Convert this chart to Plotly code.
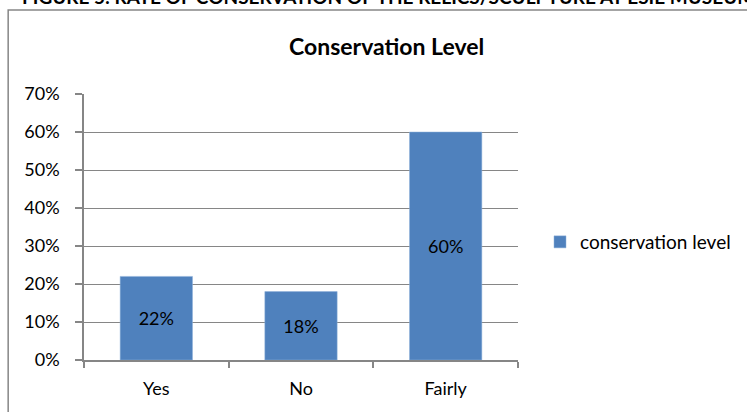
import plotly.graph_objects as go

# Survey responses on the conservation state of the relics/sculpture
categories = ["Yes", "No", "Fairly"]
conservation_level = [0.22, 0.18, 0.60]
series_name = "conservation level"
chart_title = "Conservation Level"
figure_caption = "FIGURE 5: RATE OF CONSERVATION OF THE RELICS/SCULPTURE AT ESIE MUSEUM"
y_ticks = [0, 0.1, 0.2, 0.3, 0.4, 0.5, 0.6, 0.7]

W, H = 747, 412
PLOT_L, PLOT_R, PLOT_T, PLOT_B = 84, 519, 94, 360
GRID = "#868686"
BAR = "#4F81BD"
FONT = "Lato, 'Open Sans', sans-serif"

pw = PLOT_R - PLOT_L
ph = PLOT_B - PLOT_T


def px_x(x):
    return (x - PLOT_L) / pw


def px_y(y):
    return (PLOT_B - y) / ph


fig = go.Figure()
fig.add_trace(go.Bar(
    x=categories,
    y=conservation_level,
    name=series_name,
    marker=dict(color=BAR, line=dict(color="#8EB0DA", width=0.5)),
    texttemplate="%{y:.0%}",
    textposition="inside",
    insidetextanchor="middle",
    textfont=dict(family=FONT, size=18, color="#000000"),
    showlegend=True,
))

fig.update_layout(
    width=W, height=H,
    margin=dict(l=PLOT_L, r=W - PLOT_R, t=PLOT_T, b=H - PLOT_B, pad=0),
    paper_bgcolor="white",
    plot_bgcolor="white",
    bargap=0.5,
    font=dict(family=FONT, size=18, color="#000000"),
    showlegend=True,
    legend=dict(
        x=px_x(540), y=px_y(242), xanchor="left", yanchor="middle",
        font=dict(family=FONT, size=19, color="#000000"),
        bgcolor="rgba(0,0,0,0)",
    ),
    xaxis=dict(
        showline=True, linecolor=GRID, linewidth=1.5,
        ticks="outside", tickson="boundaries", ticklen=6, tickcolor=GRID, tickwidth=1.5,
        showgrid=False,
        tickfont=dict(family=FONT, size=18, color="#000000"),
        ticklabelstandoff=12,
    ),
    yaxis=dict(
        range=[0, 0.7],
        tickvals=y_ticks,
        tickformat=".0%",
        showline=True, linecolor=GRID, linewidth=1.5,
        ticks="outside", ticklen=7, tickcolor=GRID, tickwidth=1.5,
        showgrid=True, gridcolor=GRID, gridwidth=1.3,
        zeroline=False,
        tickfont=dict(family=FONT, size=18, color="#000000"),
        ticklabelstandoff=12,
    ),
)

# Chart title
fig.add_annotation(
    text="<b>" + chart_title + "</b>",
    xref="paper", yref="paper",
    x=px_x(387), y=px_y(46),
    xanchor="center", yanchor="middle",
    showarrow=False,
    font=dict(family=FONT, size=23, color="#000000"),
)

# Figure caption above the chart frame
fig.add_annotation(
    text="<b>" + figure_caption + "</b>",
    xref="paper", yref="paper",
    x=px_x(20), y=px_y(10),
    xanchor="left", yanchor="bottom",
    showarrow=False,
    font=dict(family=FONT, size=19, color="#000000"),
)

# Chart frame
fig.add_shape(
    type="rect", xref="paper", yref="paper",
    x0=px_x(8), x1=px_x(760), y0=px_y(430), y1=px_y(10),
    line=dict(color=GRID, width=1.5), fillcolor="rgba(0,0,0,0)",
    layer="below",
)

fig.write_html("out.html")
